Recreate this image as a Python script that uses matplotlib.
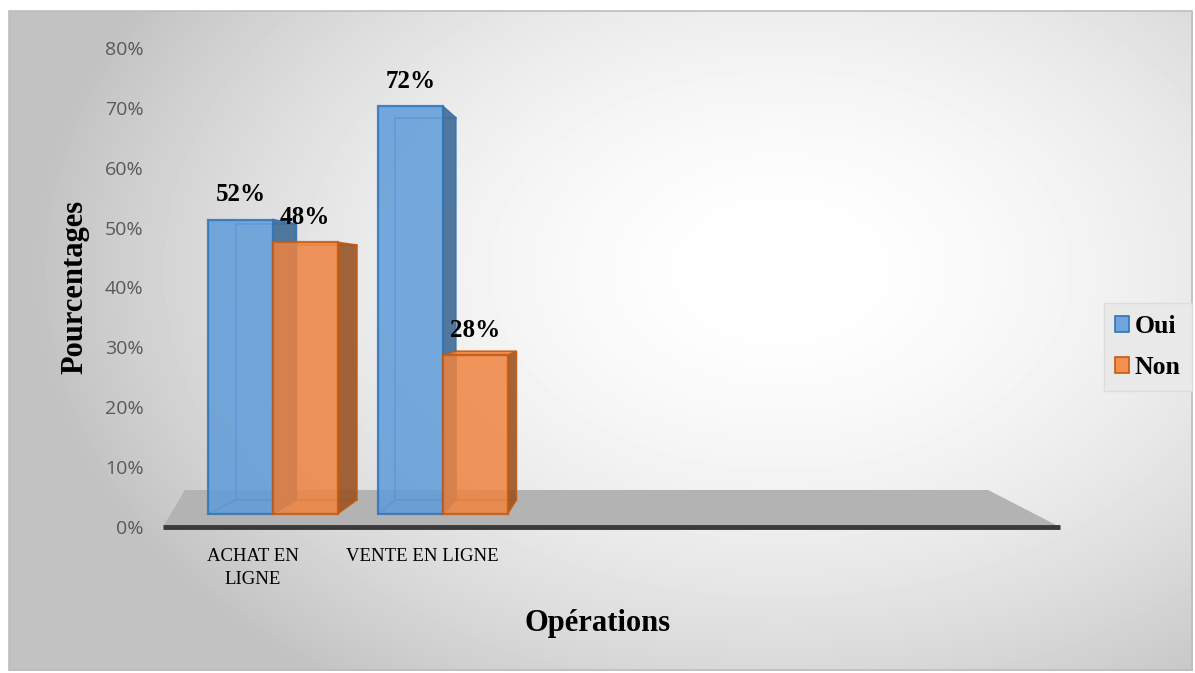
import numpy as np
import matplotlib.pyplot as plt
from matplotlib.patches import Polygon, Rectangle, Patch

categories = ['ACHAT EN\nLIGNE', 'VENTE EN LIGNE']
series = ['Oui', 'Non']
oui = [52, 72]
non = [48, 28]
yticks = [0, 10, 20, 30, 40, 50, 60, 70, 80]

W, H = 1195, 673
fig = plt.figure(figsize=(W / 100, H / 100), dpi=100)

# background: soft radial grey gradient inside a thin frame
bg = fig.add_axes([0, 0, 1, 1])
bg.axis('off')
yy, xx = np.mgrid[0:H, 0:W]
r = np.sqrt(((xx - 780) / 640.0) ** 2 + ((yy - 270) / 440.0) ** 2)
level = np.clip(1.0 - 0.18 * r ** 1.8, 0.76, 1.0)
outside = (xx < 9) | (xx > 1192) | (yy < 11) | (yy > 670)
level[outside] = 1.0
bg.imshow(level, cmap='gray', vmin=0, vmax=1, extent=(0, W, H, 0), aspect='auto')
bg.add_patch(Rectangle((9, 11), 1183, 659, fill=False, edgecolor='#bdbdbd', lw=1.2))
bg.set_xlim(0, W)
bg.set_ylim(H, 0)

ax = fig.add_axes([163 / W, (H - 527) / H, (1060 - 163) / W, (527 - 48) / H])
ax.patch.set_visible(False)
ax.set_xlim(-110 / 170, 787 / 170)
ax.set_ylim(0, 80)
for s in ax.spines.values():
    s.set_visible(False)
ax.set_xticks([])
ax.set_yticks(yticks)
ax.set_yticklabels([f'{t}%' for t in yticks], color='#595959', fontsize=14,
                   family='Open Sans')
ax.tick_params(axis='y', length=0, pad=14)

# floor of the 3d chart
x0, x1 = ax.get_xlim()
floor = Polygon([(x0, 0), (x1, 0), (4.206, 6.18), (-0.518, 6.18)],
                closed=True, facecolor='#b3b3b3', edgecolor='none', clip_on=False, zorder=1)
ax.add_patch(floor)
ax.plot([x0, x1], [0, 0], color='#3a3a3a', lw=3.5, solid_capstyle='butt', clip_on=False, zorder=2)

# perspective settings (data units)
vx, vy = 2.218, 39.9
t = 0.062
base = 2.2
scale = 0.945
width = 0.38


def back(x, y):
    return x + t * (vx - x), y + t * (vy - y)


def bar3d(xl, value, front, edge, side):
    xr = xl + width
    y0 = base
    y1 = base + scale * value
    bl0, bl1 = back(xl, y0), back(xl, y1)
    br0, br1 = back(xr, y0), back(xr, y1)
    # hidden edges seen through the translucent front
    ax.plot([xl, bl0[0], br0[0]], [y0, bl0[1], br0[1]], color=edge, lw=1.2, alpha=0.7, zorder=3)
    ax.plot([bl0[0], bl1[0]], [bl0[1], bl1[1]], color=edge, lw=1.2, alpha=0.7, zorder=3)
    if y1 > vy:
        ax.plot([bl1[0], br1[0]], [bl1[1], br1[1]], color=edge, lw=1.2, alpha=0.7, zorder=3)
    ax.add_patch(Polygon([(xr, y0), br0, br1, (xr, y1)], closed=True, facecolor=side,
                         edgecolor=edge, lw=1.2, alpha=0.9, zorder=4))
    if y1 < vy:
        ax.add_patch(Polygon([(xl, y1), (xr, y1), br1, bl1], closed=True, facecolor=front,
                             edgecolor=edge, lw=1.2, alpha=0.9, zorder=4))
    ax.add_patch(Polygon([(xl, y0), (xr, y0), (xr, y1), (xl, y1)], closed=True,
                         facecolor=front, edgecolor=edge, lw=1.6, alpha=0.85, zorder=5))
    ax.annotate(f'{value}%', (xl + width / 2, y1), xytext=(0, 18), textcoords='offset points',
                ha='center', va='center', fontsize=18, fontweight='bold',
                family='Liberation Serif', zorder=6)


blue_front, blue_edge, blue_side = '#5f9bd8', '#2e75b6', '#3f6a94'
orange_front, orange_edge, orange_side = '#ef8440', '#c55a11', '#9a5427'

for i in range(len(categories)):
    bar3d(i - width, oui[i], blue_front, blue_edge, blue_side)
    bar3d(i, non[i], orange_front, orange_edge, orange_side)

# category labels
label_x = [-0.118, 0.876]
for lx, cat in zip(label_x, categories):
    ax.text(lx, -3.5, cat, ha='center', va='top', fontsize=13.5, family='Liberation Serif',
            linespacing=1.5)

fig.text(75 / W, 1 - 287 / H, 'Pourcentages', rotation=90, ha='center', va='center',
         fontsize=22, fontweight='bold', family='Liberation Serif')
fig.text(598 / W, 1 - 624 / H, 'Opérations', ha='center', va='center',
         fontsize=22, fontweight='bold', family='Liberation Serif')

handles = [Patch(facecolor='#6fa5dc', edgecolor=blue_edge, lw=1.2),
           Patch(facecolor='#f0914f', edgecolor=orange_edge, lw=1.2)]
fig.legend(handles, series, loc='center right', bbox_to_anchor=(1192 / W, 1 - 347 / H),
           frameon=True, fancybox=False, facecolor='#e9e9e9', edgecolor='#dcdcdc', framealpha=1,
           prop=dict(family='Liberation Serif', weight='bold', size=18.5),
           handlelength=0.55, handleheight=0.55, handletextpad=0.2, labelspacing=0.7,
           borderpad=0.45, borderaxespad=0)

fig.savefig('out.png', dpi=100)
